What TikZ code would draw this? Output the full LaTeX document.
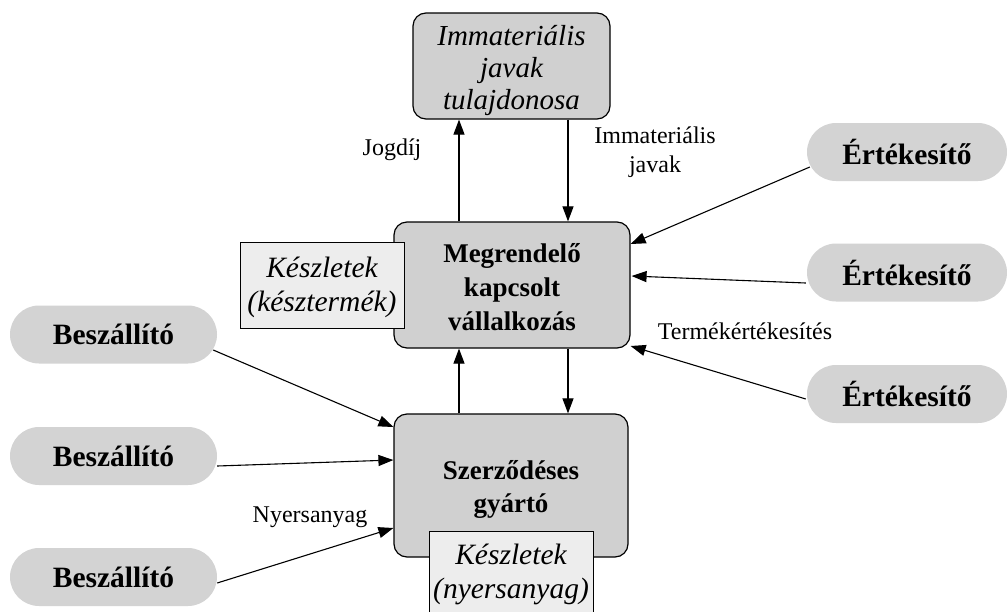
\documentclass[tikz,border=0pt]{standalone}
\usepackage{fontspec}
\setmainfont{Liberation Serif}
\usetikzlibrary{arrows.meta,calc}
\definecolor{boxgray}{HTML}{D0D0D0}
\definecolor{pillgray}{HTML}{D3D3D3}
\definecolor{stockgray}{HTML}{EDEDED}
\newcommand{\lowertext}[2]{\raisebox{-#1}[\height][\depth]{\begin{tabular}{@{}c@{}}#2\end{tabular}}}
\begin{document}
\begin{tikzpicture}[x=1pt,y=-1pt,
  mainbox/.style={draw=black,line width=1.2pt,fill=boxgray,rounded corners=13pt,align=center,inner sep=0pt},
  stockbox/.style={draw=black,line width=1pt,fill=stockgray,align=center,inner sep=0pt,minimum width=164pt,minimum height=86pt,font=\fontsize{29.5}{34}\selectfont\itshape},
  pill/.style={fill=pillgray,rounded corners=29pt,minimum height=58pt,inner sep=0pt,font=\fontsize{29.5}{34}\selectfont\bfseries},
  flow/.style={line width=1.1pt,-{Triangle[length=15pt,width=11pt]}},
  lbl/.style={font=\fontsize{24}{29}\selectfont,align=center,inner sep=0pt}]
\useasboundingbox (0,0) rectangle (1007,611);
\clip (0,0) rectangle (1007,611);
\fill[white] (0,0) rectangle (1007,611);

% main boxes
\node[mainbox,minimum width=197pt,minimum height=106pt,font=\fontsize{29}{32}\selectfont\itshape] (top) at (511.5,66) {\lowertext{5pt}{Immateriális\\javak\\tulajdonosa}};
\node[mainbox,minimum width=236pt,minimum height=126pt,font=\fontsize{27}{35}\selectfont\bfseries] (mr) at (512,285) {\lowertext{4pt}{Megrendelő\\[-1pt]kapcsolt\\[-1pt]vállalkozás}};
\node[stockbox] (k1) at (322,285) {\lowertext{3pt}{Készletek\\(késztermék)}};
\node[mainbox,minimum width=234pt,minimum height=143pt,font=\fontsize{27}{34}\selectfont\bfseries] (sz) at (511,485.5) {\lowertext{4pt}{Szerződéses\\[-1pt]gyártó}};
\node[stockbox] (k2) at (511,574) {\lowertext{1pt}{Készletek\\(nyersanyag)}};

% pills
\node[pill,minimum width=207pt] (b1) at (113.5,334.5) {Beszállító};
\node[pill,minimum width=207pt] (b2) at (113.5,456) {Beszállító};
\node[pill,minimum width=207pt] (b3) at (113.5,577) {Beszállító};
\node[pill,minimum width=200pt] (e1) at (907,152) {Értékesítő};
\node[pill,minimum width=200pt] (e2) at (907,272.5) {Értékesítő};
\node[pill,minimum width=200pt] (e3) at (907,394) {Értékesítő};

% vertical flows
\draw[flow] ($(mr.north)+(-53,0)$) -- ($(top.south)+(-52.5,0)$);
\draw[flow] ($(top.south)+(56.5,0)$) -- ($(mr.north)+(56,0)$);
\draw[flow] ($(sz.north)+(-52,0)$) -- ($(mr.south)+(-53,0)$);
\draw[flow] ($(mr.south)+(56,0)$) -- ($(sz.north)+(57,0)$);

% sales flows
\draw[flow] ($(e1.west)+(3,15)$) -- ($(mr.east)+(0,-41)$);
\draw[flow] ($(e2.west)+(-1,10.5)$) -- ($(mr.east)+(1,-9)$);
\draw[flow] ($(e3.west)+(-1,5)$) -- ($(mr.east)+(0,61)$);

% supplier flows
\draw[flow] ($(b1.east)+(-4,15.5)$) -- ($(sz.west)+(0,-58.5)$);
\draw[flow] ($(b2.east)+(0,10)$) -- ($(sz.west)+(0,-25.5)$);
\draw[flow] ($(b3.east)+(0,6)$) -- ($(sz.west)+(0,42.5)$);

% labels
\node[lbl] (ljog) at (392,150) {Jogdíj};
\node[lbl] (limm) at (655,152) {Immateriális\\javak};
\node[lbl] (lterm) at (745,331) {Termékértékesítés};
\node[lbl] (lnyers) at (310,517) {Nyersanyag};
\end{tikzpicture}
\end{document}
